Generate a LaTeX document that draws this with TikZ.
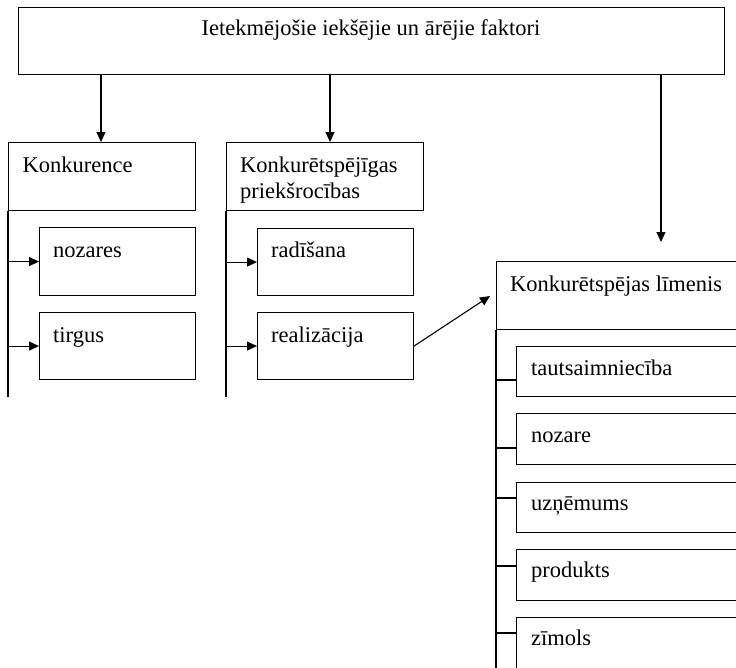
\documentclass[tikz,border=0pt]{standalone}
\usepackage{fontspec}
\setmainfont{Liberation Serif}
\usetikzlibrary{arrows.meta,calc}
\begin{document}
\begin{tikzpicture}[x=1pt,y=-1pt,
  box/.style={draw,line width=1.1pt,rectangle,inner sep=0pt,anchor=north west},
  lbl/.style={anchor=base west,inner sep=0pt,font=\fontsize{22.5}{26.5}\selectfont},
  arr/.style={line width=1.1pt,-{Triangle[length=10pt,width=9pt]}},
  ln/.style={line width=1.1pt}]
\useasboundingbox (0,0) rectangle (736,667);
\clip (0,0) rectangle (736,667);

% top box
\node[box,minimum width=706pt,minimum height=67.5pt] (top) at (18,6.5) {};
\node[lbl,anchor=base] (toptxt) at (371,35) {Ietekmējošie iekšējie un ārējie faktori};

% first column
\node[box,minimum width=187pt,minimum height=68pt] (kon) at (8,142) {};
\node[lbl] (kontxt) at (22.5,172) {Konkurence};
\node[box,minimum width=156pt,minimum height=68pt] (noz) at (39,227) {};
\node[lbl] (noztxt) at (53,257) {nozares};
\node[box,minimum width=156pt,minimum height=67pt] (tir) at (39,312) {};
\node[lbl] (tirtxt) at (53,342) {tirgus};
\coordinate (konend) at (8,397);

% second column
\node[box,minimum width=197pt,minimum height=68pt] (kp) at (226,142) {};
\node[lbl] (kptxta) at (240,172) {Konkurētspējīgas};
\node[lbl] (kptxtb) at (240,198.5) {priekšrocības};
\node[box,minimum width=156pt,minimum height=67pt] (rad) at (257,228) {};
\node[lbl] (radtxt) at (271,257) {radīšana};
\node[box,minimum width=156pt,minimum height=67pt] (rea) at (257,312) {};
\node[lbl] (reatxt) at (271,342) {realizācija};
\coordinate (kpend) at (226,397);

% third column
\node[box,minimum width=300pt,minimum height=68pt] (lvl) at (496,261) {};
\node[lbl] (lvltxt) at (510,291) {Konkurētspējas līmenis};
\coordinate (lvlend) at (496,700);
\coordinate (lvlin) at (490,296);
\coordinate (lvltop) at (661,242);

\node[box,minimum width=300pt,minimum height=50pt] (l1) at (516,346) {};
\node[lbl] (l1txt) at (531,375) {tautsaimniecība};
\node[box,minimum width=300pt,minimum height=51pt] (l2) at (516,413) {};
\node[lbl] (l2txt) at (531,442) {nozare};
\node[box,minimum width=300pt,minimum height=50pt] (l3) at (516,482) {};
\node[lbl] (l3txt) at (531,510) {uzņēmums};
\node[box,minimum width=300pt,minimum height=51pt] (l4) at (516,549) {};
\node[lbl] (l4txt) at (531,577) {produkts};
\node[box,minimum width=300pt,minimum height=80pt] (l5) at (516,617) {};
\node[lbl] (l5txt) at (531,645) {zīmols};

\coordinate (c1) at (516,380);
\coordinate (c2) at (516,448);
\coordinate (c3) at (516,498);
\coordinate (c4) at (516,566);
\coordinate (c5) at (516,633);

% connectors from the top box
\draw[arr] (top.south -| 101,0) -- (101,142);
\draw[arr] (top.south -| 330,0) -- (330,142);
\draw[arr] (top.south -| lvltop) -- (lvltop);

% first column branches
\draw[ln] (kon.south west) -- (konend);
\draw[arr] (noz.west -| kon.west) -- (noz.west);
\draw[arr] (tir.west -| kon.west) -- (tir.west);

% second column branches
\draw[ln] (kp.south west) -- (kpend);
\draw[arr] (rad.west -| kp.west) -- (rad.west);
\draw[arr] (rea.west -| kp.west) -- (rea.west);
\draw[arr] (rea.east) -- (lvlin);

% third column branches
\draw[ln] (lvl.south west) -- (lvlend);
\foreach \c in {c1,c2,c3,c4,c5}
  \draw[ln] (\c -| lvl.west) -- (\c);
\end{tikzpicture}
\end{document}
